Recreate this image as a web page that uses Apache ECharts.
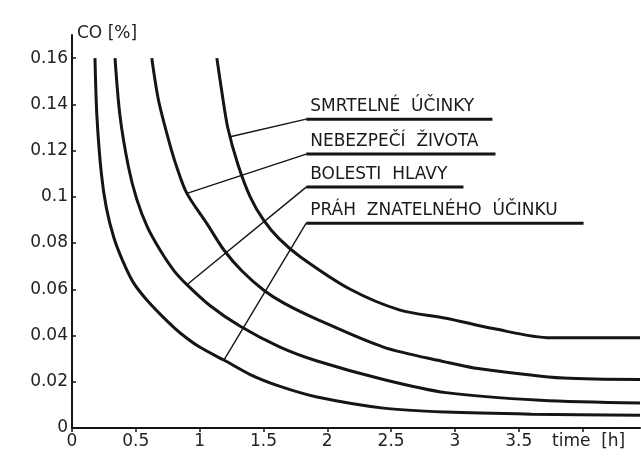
<!DOCTYPE html>
<html>
<head>
<meta charset="utf-8">
<script src="https://cdn.jsdelivr.net/npm/echarts@6/dist/echarts.min.js"></script>
<style>
  html, body { margin: 0; padding: 0; background: #fff; }
  #main { width: 641px; height: 461px; }
</style>
</head>
<body>
<div id="main"></div>
<script>
  // curves: [time h, CO %]
  var prahZnatelnehoUcinku = [[0.18,0.16],[0.195,0.135],[0.23,0.11],[0.27,0.095],[0.33,0.082],[0.40,0.072],[0.48,0.063],[0.586,0.0554],[0.75,0.046],[0.85,0.041],[1.0,0.035],[1.19,0.0294],[1.4,0.023],[1.63,0.018],[1.92,0.0134],[2.44,0.0086],[2.93,0.0069],[3.6,0.006],[4.45,0.0055]];
  var bolestiHlavy = [[0.337,0.16],[0.376,0.135],[0.442,0.113],[0.507,0.099],[0.59,0.087],[0.69,0.077],[0.80,0.068],[0.90,0.062],[1.08,0.053],[1.318,0.044],[1.63,0.035],[1.92,0.029],[2.44,0.021],[2.93,0.0153],[3.67,0.012],[4.45,0.0108]];
  var nebezpeciZivota = [[0.625,0.16],[0.677,0.142],[0.755,0.125],[0.82,0.113],[0.90,0.1015],[1.056,0.0885],[1.19,0.077],[1.33,0.068],[1.5,0.0597],[1.66,0.054],[1.92,0.047],[2.44,0.035],[2.93,0.0285],[3.15,0.026],[3.85,0.0216],[4.45,0.021]];
  var smrtelneUcinky = [[1.135,0.16],[1.175,0.145],[1.22,0.130],[1.30,0.114],[1.396,0.100],[1.5,0.090],[1.62,0.082],[1.79,0.074],[2.18,0.060],[2.57,0.051],[2.93,0.0475],[3.3,0.043],[3.75,0.039],[4.45,0.039]];

  var xTicks = [0, 0.5, 1, 1.5, 2, 2.5, 3, 3.5, 4];
  var xLabels = [0, 0.5, 1, 1.5, 2, 2.5, 3, 3.5];
  var yTicks = [0, 0.02, 0.04, 0.06, 0.08, 0.1, 0.12, 0.14, 0.16];

  // label names, point on the curve, underline start and end (data coords)
  var noteNames = ['SMRTELNÉ  ÚČINKY', 'NEBEZPEČÍ  ŽIVOTA', 'BOLESTI  HLAVY', 'PRÁH  ZNATELNÉHO  ÚČINKU'];
  var noteFrom = [[1.24,0.126],[0.90,0.1015],[0.90,0.062],[1.19,0.0294]];
  var noteStart = [[1.835,0.1336],[1.835,0.1185],[1.835,0.1042],[1.835,0.0886]];
  var noteEnd = [[3.294,0.1336],[3.318,0.1185],[3.067,0.1042],[4.008,0.0886]];

  var ink = '#151515';
  var font = 'DejaVu Sans';

  var chart = echarts.init(document.getElementById('main'));

  function curve(data) {
    return {
      type: 'line',
      data: data,
      showSymbol: false,
      smooth: 0.3,
      lineStyle: { color: ink, width: 3 },
      z: 3
    };
  }

  var series = [
    curve(prahZnatelnehoUcinku),
    curve(bolestiHlavy),
    curve(nebezpeciZivota),
    curve(smrtelneUcinky)
  ];

  for (var i = 0; i < noteNames.length; i++) {
    series.push({
      type: 'line',
      data: [noteFrom[i], noteStart[i]],
      showSymbol: false,
      lineStyle: { color: ink, width: 1.4 },
      z: 2
    });
    series.push({
      type: 'line',
      data: [noteStart[i], noteEnd[i]],
      showSymbol: false,
      lineStyle: { color: ink, width: 3 },
      z: 2
    });
  }

  chart.setOption({
    animation: false,
    backgroundColor: '#fff',
    grid: { left: 72, right: 1, top: 35, bottom: 33 },
    xAxis: {
      type: 'value',
      min: 0,
      max: 4.45,
      axisLine: { lineStyle: { color: ink, width: 2 } },
      axisTick: { customValues: xTicks, length: 4, lineStyle: { color: ink, width: 1.5 } },
      axisLabel: {
        customValues: xLabels,
        margin: 5,
        color: '#222',
        fontFamily: font,
        fontSize: 17
      },
      splitLine: { show: false }
    },
    yAxis: {
      type: 'value',
      min: 0,
      max: 0.17,
      axisLine: { show: true, lineStyle: { color: ink, width: 2 } },
      axisTick: { show: true, inside: true, customValues: yTicks, length: 4, lineStyle: { color: ink, width: 1.5 } },
      axisLabel: {
        customValues: yTicks,
        margin: 4,
        color: '#222',
        fontFamily: font,
        fontSize: 17
      },
      splitLine: { show: false }
    },
    series: series
  });

  // texts placed through the chart's own scales
  var graphics = [
    {
      type: 'text', left: 77, top: 25,
      style: { text: 'CO [%]', font: '17px "DejaVu Sans"', fill: '#222' }
    },
    {
      type: 'text', left: 552, top: 433,
      style: { text: 'time  [h]', font: '17px "DejaVu Sans"', fill: '#222' }
    }
  ];
  for (var j = 0; j < noteNames.length; j++) {
    var p = chart.convertToPixel({ gridIndex: 0 }, noteStart[j]);
    graphics.push({
      type: 'text',
      x: p[0] + 4,
      y: p[1] - 4,
      style: {
        text: noteNames[j],
        font: '17px "DejaVu Sans"',
        fill: '#1a1a1a',
        verticalAlign: 'bottom',
        align: 'left'
      }
    });
  }
  chart.setOption({ graphic: graphics });
</script>
</body>
</html>
